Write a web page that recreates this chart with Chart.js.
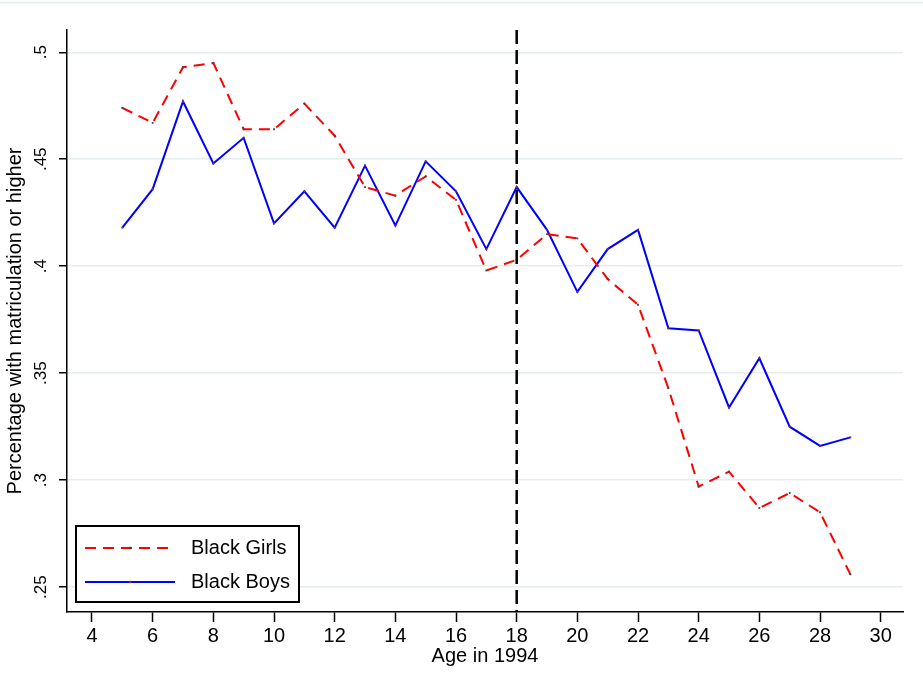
<!DOCTYPE html>
<html>
<head>
<meta charset="utf-8">
<script src="https://cdn.jsdelivr.net/npm/chart.js@4/dist/chart.umd.min.js"></script>
<style>
  html, body { margin: 0; padding: 0; background: #ffffff; }
  #wrap { width: 923px; height: 697px; }
</style>
</head>
<body>
<div id="wrap"><canvas id="c" width="923" height="697"></canvas></div>
<script>
// Share of black youth with matriculation or higher, by age in 1994
const ages  = [5, 6, 7, 8, 9, 10, 11, 12, 13, 14, 15, 16, 17, 18, 19, 20, 21, 22, 23, 24, 25, 26, 27, 28, 29];
const girls = [0.474, 0.467, 0.493, 0.495, 0.464, 0.464, 0.476, 0.461, 0.437, 0.433, 0.442, 0.431, 0.398,
               0.403, 0.415, 0.413, 0.394, 0.382, 0.343, 0.297, 0.304, 0.287, 0.294, 0.285, 0.256];
const boys  = [0.418, 0.436, 0.477, 0.448, 0.460, 0.420, 0.435, 0.418, 0.447, 0.419, 0.449, 0.435, 0.408,
               0.437, 0.417, 0.388, 0.408, 0.417, 0.371, 0.370, 0.334, 0.357, 0.325, 0.316, 0.320];
const seriesNames = ['Black Girls', 'Black Boys'];
const xTicks = [4, 6, 8, 10, 12, 14, 16, 18, 20, 22, 24, 26, 28, 30];
const yTicks = [0.25, 0.3, 0.35, 0.4, 0.45, 0.5];
const yTickLabels = ['.25', '.3', '.35', '.4', '.45', '.5'];
const cutoffAge = 18;
const xTitle = 'Age in 1994';
const yTitle = 'Percentage with matriculation or higher';

const FONT = "'Liberation Sans', Arial, sans-serif";
const RED = '#ff0000';
const BLUE = '#0000ff';
const GRID = '#e5edf0';

const toPoints = vals => ages.map((a, i) => ({ x: a, y: vals[i] }));

// page background and the faint frame line along the top
const backdrop = {
  id: 'backdrop',
  beforeDraw(chart) {
    const ctx = chart.ctx;
    ctx.save();
    ctx.fillStyle = '#ffffff';
    ctx.fillRect(0, 0, chart.width, chart.height);
    ctx.strokeStyle = GRID;
    ctx.lineWidth = 1.5;
    ctx.beginPath();
    ctx.moveTo(0, 2.5);
    ctx.lineTo(chart.width, 2.5);
    ctx.stroke();
    ctx.restore();
  }
};

// vertical y tick labels, centred on each tick
const yLabels = {
  id: 'yLabels',
  afterDraw(chart) {
    const ctx = chart.ctx;
    const y = chart.scales.y;
    ctx.save();
    ctx.fillStyle = '#000000';
    ctx.font = '17px ' + FONT;
    ctx.textAlign = 'center';
    ctx.textBaseline = 'middle';
    yTicks.forEach((v, i) => {
      const py = y.getPixelForValue(v);
      ctx.save();
      ctx.translate(41, py);
      ctx.rotate(-Math.PI / 2);
      ctx.fillText(yTickLabels[i], 0, 0);
      ctx.restore();
    });
    ctx.restore();
  }
};

// dashed reference line at the cutoff age
const cutoffLine = {
  id: 'cutoffLine',
  afterDatasetsDraw(chart) {
    const ctx = chart.ctx;
    const x = chart.scales.x.getPixelForValue(cutoffAge);
    const a = chart.chartArea;
    ctx.save();
    ctx.strokeStyle = '#000000';
    ctx.lineWidth = 2.5;
    ctx.setLineDash([14, 6]);
    ctx.beginPath();
    ctx.moveTo(x, a.top);
    ctx.lineTo(x, a.bottom);
    ctx.stroke();
    ctx.restore();
  }
};

// boxed legend in the lower-left corner of the plot
const boxLegend = {
  id: 'boxLegend',
  afterDraw(chart) {
    const ctx = chart.ctx;
    const bx = 76, by = 526, bw = 223, bh = 76;
    ctx.save();
    ctx.fillStyle = '#ffffff';
    ctx.fillRect(bx, by, bw, bh);
    ctx.strokeStyle = '#000000';
    ctx.lineWidth = 2;
    ctx.strokeRect(bx, by, bw, bh);
    const rows = [548, 582];
    chart.data.datasets.forEach((ds, i) => {
      const ly = rows[i];
      ctx.strokeStyle = ds.borderColor;
      ctx.lineWidth = ds.borderWidth;
      ctx.setLineDash(ds.borderDash || []);
      ctx.beginPath();
      ctx.moveTo(85, ly);
      ctx.lineTo(175, ly);
      ctx.stroke();
      ctx.setLineDash([]);
      ctx.fillStyle = ds.pointBackgroundColor;
      ctx.fillRect(129, ly - 1.2, 2.4, 2.4);
      ctx.fillStyle = '#000000';
      ctx.font = '20px ' + FONT;
      ctx.textAlign = 'left';
      ctx.textBaseline = 'middle';
      ctx.fillText(ds.label, 191, ly);
    });
    ctx.restore();
  }
};

new Chart(document.getElementById('c'), {
  type: 'line',
  data: {
    datasets: [
      {
        label: seriesNames[0],
        data: toPoints(girls),
        borderColor: RED,
        borderWidth: 2,
        borderDash: [11, 7],
        pointRadius: 1.3,
        pointStyle: 'rect',
        pointBackgroundColor: '#2e4a5a',
        pointBorderWidth: 0,
        tension: 0,
        fill: false
      },
      {
        label: seriesNames[1],
        data: toPoints(boys),
        borderColor: BLUE,
        borderWidth: 2,
        pointRadius: 1.3,
        pointStyle: 'rect',
        pointBackgroundColor: '#8a2e2e',
        pointBorderWidth: 0,
        tension: 0,
        fill: false
      }
    ]
  },
  options: {
    responsive: false,
    animation: false,
    devicePixelRatio: 1,
    layout: { padding: { top: 30, right: 20, left: 0, bottom: 0 } },
    plugins: {
      legend: { display: false },
      tooltip: { enabled: false }
    },
    scales: {
      x: {
        type: 'linear',
        min: 3.176,
        max: 30.735,
        afterBuildTicks: s => { s.ticks = xTicks.map(v => ({ value: v })); },
        afterFit: s => { s.height = 85; },
        grid: {
          drawOnChartArea: false,
          drawTicks: true,
          tickLength: 10,
          tickColor: '#000000',
          tickWidth: 1.5
        },
        border: { display: true, color: '#000000', width: 1.5 },
        ticks: {
          color: '#000000',
          font: { family: FONT, size: 20 },
          padding: 2,
          maxRotation: 0,
          autoSkip: false
        },
        title: {
          display: true,
          text: xTitle,
          color: '#000000',
          font: { family: FONT, size: 20 },
          padding: { top: 0, bottom: 29 }
        }
      },
      y: {
        type: 'linear',
        min: 0.2384,
        max: 0.5104,
        afterBuildTicks: s => { s.ticks = yTicks.map(v => ({ value: v })); },
        afterFit: s => { s.width = 67; },
        grid: {
          color: GRID,
          lineWidth: 1.5,
          drawTicks: true,
          tickLength: 8,
          tickColor: '#000000',
          tickWidth: 1.5
        },
        border: { display: true, color: '#000000', width: 1.5 },
        ticks: { display: false },
        title: {
          display: true,
          text: yTitle,
          color: '#000000',
          font: { family: FONT, size: 20 },
          padding: { top: 3, bottom: 0 }
        }
      }
    }
  },
  plugins: [backdrop, cutoffLine, boxLegend, yLabels]
});
</script>
</body>
</html>
